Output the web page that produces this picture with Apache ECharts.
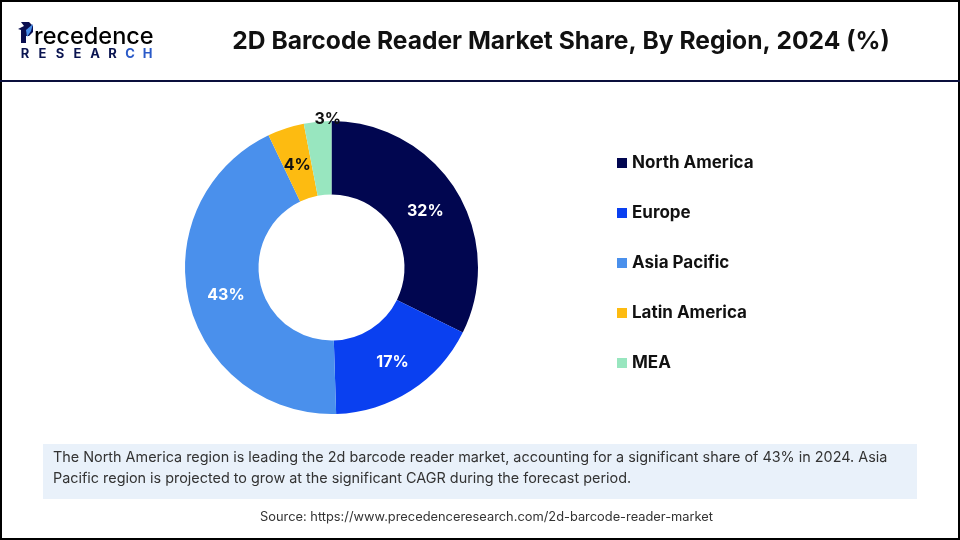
<!DOCTYPE html>
<html><head><meta charset="utf-8">
<style>html,body{margin:0;padding:0;background:#fff}#c{width:960px;height:540px}</style>
<script src="https://cdn.jsdelivr.net/npm/echarts@6/dist/echarts.min.js"></script>
</head><body><div id="c"></div>
<script>
const regions = ['North America','Europe','Asia Pacific','Latin America','MEA'];
const shares = [32,17,43,4,3];
const colors = ['#010650','#0a40f0','#4a90ec','#fdbb11','#98e6bf'];
const labelColors = ['#fff','#fff','#fff','#111','#111'];
const titleText = '2D Barcode Reader Market Share, By Region, 2024 (%)';
const noteLines = ['The North America region is leading the 2d barcode reader market, accounting for a significant share of 43% in 2024. Asia','Pacific region is projected to grow at the significant CAGR during the forecast period.'];
const sourceText = 'Source: https://www.precedenceresearch.com/2d-barcode-reader-market';
const logoLetters = 'RESEARCH'.split('');
const F='Inter, "Liberation Sans", sans-serif';
const nudges = [[-2,3],[0,0],[4,1],[1,5],[7,-36]];
const chart = echarts.init(document.getElementById('c'),null,{renderer:'canvas'});
chart.setOption({
  animation:false,
  backgroundColor:'#fff',
  color:colors,
  legend:{orient:'vertical',left:612,top:149,itemWidth:10,itemHeight:10,itemGap:32,icon:'rect',
    data:regions,selectedMode:false,
    textStyle:{fontFamily:F,fontSize:17,fontWeight:700,color:'#111',lineHeight:18}},
  series:[{type:'pie',center:[331.5,267.5],radius:[73,146.5],startAngle:90,clockwise:true,
    itemStyle:{borderWidth:0},
    label:{show:true,position:'inside',formatter:p=>p.value+'%',fontFamily:F,fontSize:16,fontWeight:700},
    labelLine:{show:false},
    labelLayout:p=>({dx:nudges[p.dataIndex][0],dy:nudges[p.dataIndex][1]}),
    emphasis:{disabled:true},
    data:regions.map((n,i)=>({name:n,value:shares[i],label:{color:labelColors[i]}}))
  }],
  graphic:[
    {type:'rect',z:-1,shape:{x:1,y:1,width:958,height:538},style:{fill:'#fff',stroke:'#000',lineWidth:2}},
    {type:'rect',shape:{x:0,y:80,width:960,height:2},style:{fill:'#0a0f3c'}},
    {type:'rect',shape:{x:43,y:444,width:874,height:55},style:{fill:'#e9f1fa'}},
    {type:'text',style:{x:561,y:41.5,text:titleText,textAlign:'center',textVerticalAlign:'middle',fontFamily:F,fontSize:24.6,fontWeight:700,fill:'#111'}},
    {type:'text',style:{x:53,y:458,text:noteLines[0],textVerticalAlign:'middle',fontFamily:F,fontSize:14.4,fill:'#333'}},
    {type:'text',style:{x:53,y:479,text:noteLines[1],textVerticalAlign:'middle',fontFamily:F,fontSize:14.4,fill:'#333'}},
    {type:'text',style:{x:486.5,y:517,text:sourceText,textAlign:'center',textVerticalAlign:'middle',fontFamily:F,fontSize:12.85,fill:'#333'}},
    {type:'text',style:{x:34,y:37,text:'recedence',textVerticalAlign:'middle',fontFamily:F,fontSize:23.5,fontWeight:500,fill:new echarts.graphic.LinearGradient(0,0,1,0,[{offset:0,color:'#0a1460'},{offset:1,color:'#2a66e0'}])}},
    {type:'polygon',shape:{points:[[21,22],[29,22],[33,26],[33,32],[29,36],[26,36],[26,43],[21,43],[21,30],[18,29],[24,26]]},style:{fill:'#0a0f50'}},
    {type:'polygon',shape:{points:[[33,24],[31,31],[27,37],[26,30]]},style:{fill:'#4a90ec'}}
  ].concat(logoLetters.map((ch,i)=>({type:'text',style:{x:25+i*17.5,y:54,text:ch,textAlign:'center',textVerticalAlign:'middle',fontFamily:F,fontSize:13,fontWeight:700,fill:i<6?'#0a1450':'#2a5ac8'}})))
});
</script></body></html>
